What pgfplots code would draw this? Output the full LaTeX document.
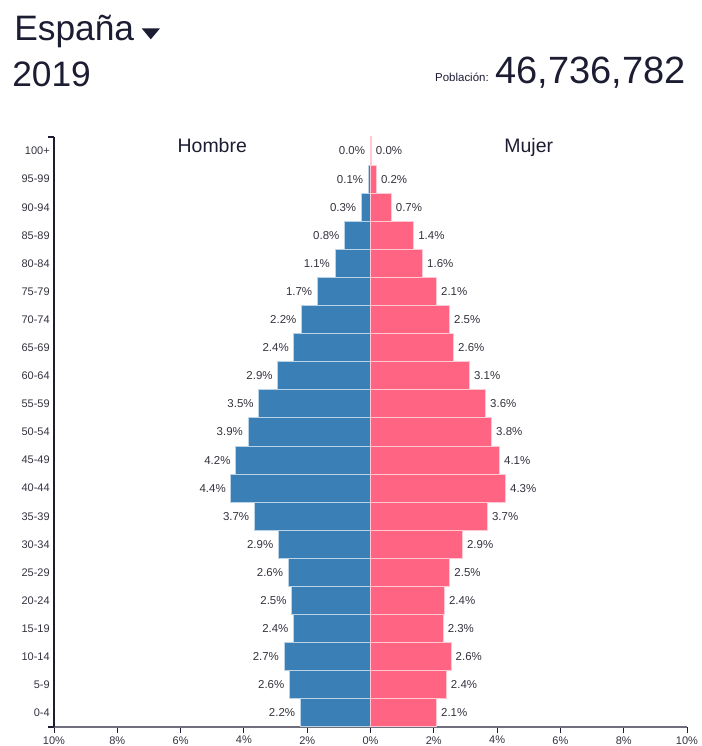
\documentclass[border=0pt]{standalone}
\usepackage{pgfplots}
\pgfplotsset{compat=1.18}
\usepackage{pgfplotstable}
\usepackage{fontspec}
\setmainfont{Liberation Sans}
\definecolor{mblue}{RGB}{58,128,183}
\definecolor{fpink}{RGB}{255,101,131}
\definecolor{ink}{RGB}{28,28,50}
\definecolor{labc}{RGB}{50,50,62}
\definecolor{axgray}{RGB}{110,110,125}

\pgfplotstableread{
y m ml f fl
0  -2.22 2.2 2.09 2.1
1  -2.56 2.6 2.40 2.4
2  -2.73 2.7 2.55 2.6
3  -2.43 2.4 2.30 2.3
4  -2.49 2.5 2.34 2.4
5  -2.60 2.6 2.51 2.5
6  -2.91 2.9 2.91 2.9
7  -3.67 3.7 3.70 3.7
8  -4.41 4.4 4.27 4.3
9  -4.26 4.2 4.08 4.1
10 -3.87 3.9 3.83 3.8
11 -3.53 3.5 3.64 3.6
12 -2.93 2.9 3.13 3.1
13 -2.42 2.4 2.63 2.6
14 -2.18 2.2 2.50 2.5
15 -1.68 1.7 2.09 2.1
16 -1.12 1.1 1.65 1.6
17 -0.82 0.8 1.37 1.4
18 -0.29 0.3 0.66 0.7
19 -0.07 0.1 0.19 0.2
20 -0.01 0.0 0.03 0.0
}\pyramid

\begin{document}
\begin{tikzpicture}
\useasboundingbox (0,0) rectangle (525.75pt,559.5pt);
\begin{scope}
\clip (0,0) rectangle (525.75pt,559.5pt);
\begin{axis}[
  at={(40.5pt,14.25pt)}, anchor=south west,
  scale only axis, width=474.75pt, height=442.5pt,
  xmin=-10, xmax=10, ymin=-0.5, ymax=20.5,
  axis x line*=bottom, axis y line*=left,
  x axis line style={draw=axgray, line width=1.2pt, -},
  y axis line style={draw=ink, line width=0.9pt, -},
  /pgf/number format/assume math mode=true,
  xtick={-10,-8,...,10},
  xticklabels={10\%,8\%,6\%,4\%,2\%,0\%,2\%,4\%,6\%,8\%,10\%},
  ytick={0,...,20},
  yticklabels={0-4,5-9,10-14,15-19,20-24,25-29,30-34,35-39,40-44,45-49,50-54,55-59,60-64,65-69,70-74,75-79,80-84,85-89,90-94,95-99,100+},
  tick align=outside,
  major tick length=4.5pt,
  x tick style={draw=ink, line width=0.75pt},
  y tick style={draw=none},
  yticklabel style={font=\fontsize{8.25}{10}\selectfont, text=labc, inner sep=0pt, xshift=1.5pt},
  xticklabel style={font=\fontsize{8.25}{10}\selectfont, text=labc, inner sep=0pt, yshift=-2.3pt},
  clip=false,
]
\addplot[xbar, bar width=1, bar shift=0pt, fill=mblue, draw=mblue!35!white, line width=0.75pt,
  point meta=explicit,
  nodes near coords={\pgfmathprintnumber[fixed,fixed zerofill,precision=1,assume math mode=true]{\pgfplotspointmeta}\%},
  nodes near coords style={anchor=east, inner sep=0pt, xshift=-3.5pt, text=labc, font=\fontsize{8.6}{10}\selectfont}]
  table[x=m, y=y, meta=ml] {\pyramid};
\addplot[xbar, bar width=1, bar shift=0pt, fill=fpink, draw=fpink!35!white, line width=0.75pt,
  point meta=explicit,
  nodes near coords={\pgfmathprintnumber[fixed,fixed zerofill,precision=1,assume math mode=true]{\pgfplotspointmeta}\%},
  nodes near coords style={anchor=west, inner sep=0pt, xshift=3pt, text=labc, font=\fontsize{8.6}{10}\selectfont}]
  table[x=f, y=y, meta=fl] {\pyramid};
\draw[ink, line width=0.9pt] (axis cs:-10,20.5) -- ([xshift=-4.5pt]axis cs:-10,20.5);
\draw[ink, line width=0.9pt] (axis cs:-10,-0.5) -- ([xshift=-4.5pt]axis cs:-10,-0.5);
\node[anchor=base, font=\fontsize{14.6}{16}\selectfont, text=ink] at (axis cs:-5,19.94) {Hombre};
\node[anchor=base, font=\fontsize{14.6}{16}\selectfont, text=ink] at (axis cs:5,19.94) {Mujer};
\end{axis}
\end{scope}
\node[anchor=base west, inner sep=0pt, font=\fontsize{26.5}{30}\selectfont, text=ink] at (10.5pt,529pt) {España};
\fill[ink] (106.25pt,538.25pt) -- (120pt,538.25pt) -- (113.1pt,530pt) -- cycle;
\node[anchor=base west, inner sep=0pt, font=\fontsize{26.5}{30}\selectfont, text=ink] at (9pt,494.5pt) {2019};
\node[anchor=base east, inner sep=0pt, font=\fontsize{28.5}{32}\selectfont, text=ink] at (514.5pt,497pt) {46,736,782};
\node[anchor=base east, inner sep=0pt, font=\fontsize{8.6}{10}\selectfont, text=ink] at (366.75pt,498.5pt) {Población:};
\end{tikzpicture}
\end{document}
